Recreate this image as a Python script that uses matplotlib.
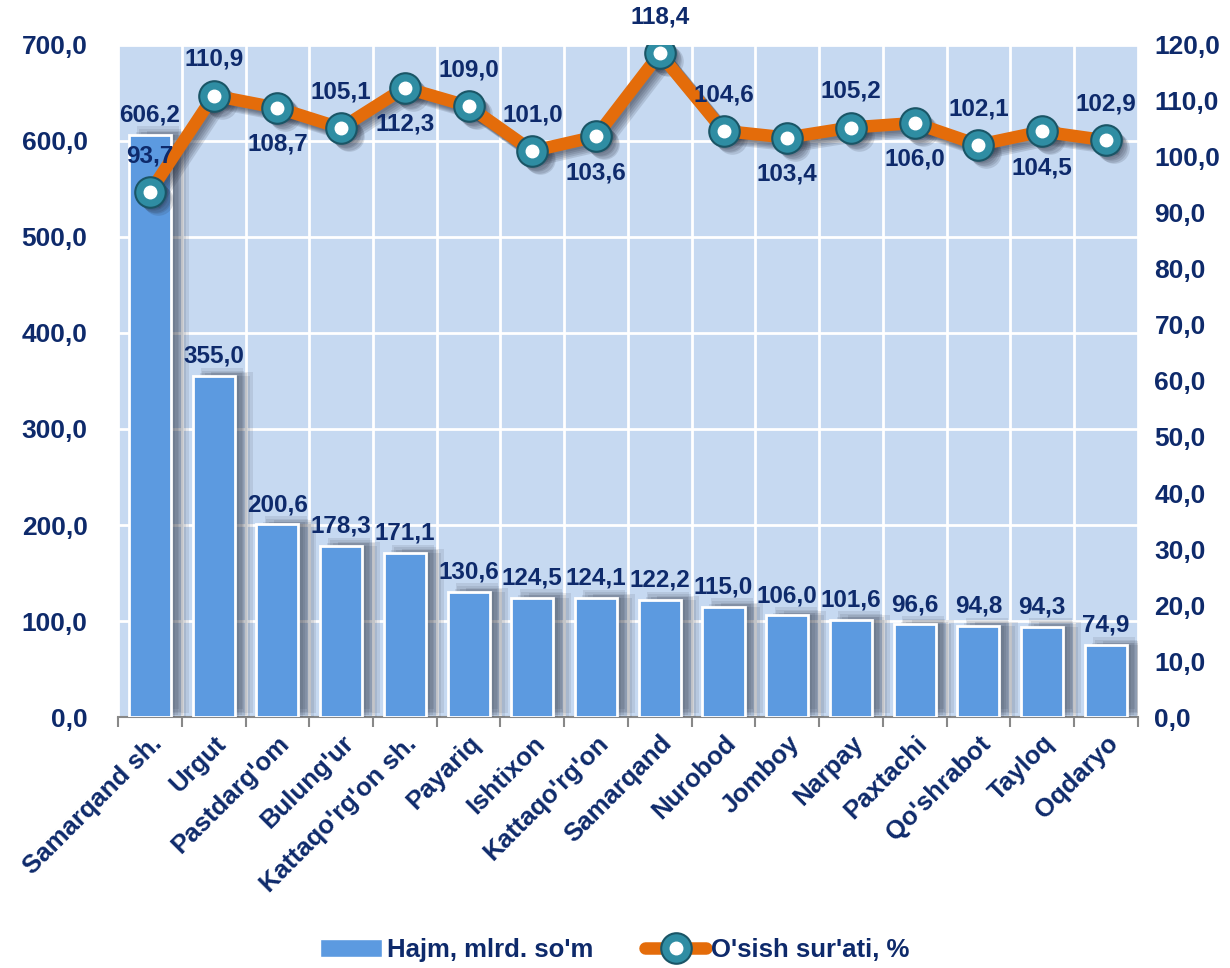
import matplotlib
matplotlib.use('Agg')
import matplotlib.pyplot as plt
import matplotlib.patheffects as pe
import matplotlib.transforms as mtrans
from matplotlib.legend_handler import HandlerTuple
from matplotlib.patches import Patch
import numpy as np

plt.rcParams['font.family'] = ['Liberation Sans', 'DejaVu Sans']
plt.rcParams['font.weight'] = 'bold'

districts = ["Samarqand sh.", "Urgut", "Pastdarg'om", "Bulung'ur", "Kattaqo'rg'on sh.",
             "Payariq", "Ishtixon", "Kattaqo'rg'on", "Samarqand", "Nurobod", "Jomboy",
             "Narpay", "Paxtachi", "Qo'shrabot", "Tayloq", "Oqdaryo"]
volume = [606.2, 355.0, 200.6, 178.3, 171.1, 130.6, 124.5, 124.1, 122.2, 115.0,
          106.0, 101.6, 96.6, 94.8, 94.3, 74.9]
growth = [93.7, 110.9, 108.7, 105.1, 112.3, 109.0, 101.0, 103.6, 118.4, 104.6,
          103.4, 105.2, 106.0, 102.1, 104.5, 102.9]
# +1 label above the point, -1 below
growth_pos = [1, 1, -1, 1, -1, 1, 1, -1, 1, 1, -1, 1, -1, 1, -1, 1]

navy = '#0E2A6B'
bar_col = '#5C9AE0'
line_col = '#E46C0A'
fs = 17.5

fig = plt.figure(figsize=(12.3, 9.68), dpi=100)
ax = fig.add_axes([0.096, 0.259, 0.829, 0.695])
ax.set_facecolor('#C6D9F1')
x = np.arange(len(districts))

# soft shadow: several offset layers with low alpha
bar_shadow = [pe.SimplePatchShadow(offset=(dx, dy), shadow_rgbFace='#2A3040', alpha=0.1)
              for dx, dy in ((3, 0), (5, 2), (7, 4), (9, 2), (11, 0), (13, 3), (6, 6))]
bars = ax.bar(x, volume, 0.66, color=bar_col, edgecolor='white', linewidth=2, zorder=3)
for b in bars:
    b.set_path_effects(bar_shadow + [pe.Normal()])

for b, v in zip(bars, volume):
    ax.annotate(('%.1f' % v).replace('.', ','), (b.get_x() + b.get_width() / 2, v),
                xytext=(0, 6), textcoords='offset points', ha='center', va='bottom',
                fontsize=fs, fontweight='bold', color=navy, zorder=5)

ax.set_xlim(-0.5, len(districts) - 0.5)
ax.set_ylim(0, 700)
ax.set_yticks(np.arange(0, 701, 100))
ax.set_yticklabels([('%.1f' % t).replace('.', ',') for t in np.arange(0, 701, 100)])
ax.set_xticks(x)
ax.set_xticklabels(districts, rotation=45, ha='right', rotation_mode='anchor')
ax.set_xticks(np.arange(-0.5, len(districts), 1), minor=True)
ax.tick_params(axis='x', which='major', length=0, pad=10, labelsize=18.5, labelcolor=navy)
ax.tick_params(axis='x', which='minor', length=7, width=1.5, color='#888888')
ax.tick_params(axis='y', length=0, labelsize=19, labelcolor=navy, pad=22)
ax.grid(True, which='major', axis='y', color='white', linewidth=2)
ax.grid(True, which='minor', axis='x', color='white', linewidth=2)
ax.set_axisbelow(True)
for s in ['left', 'right', 'top']:
    ax.spines[s].set_visible(False)
ax.spines['bottom'].set_color('#888888')
ax.spines['bottom'].set_linewidth(1.5)

ax2 = ax.twinx()
ax2.set_ylim(0, 120)
ax2.set_yticks(np.arange(0, 121, 10))
ax2.set_yticklabels([('%.1f' % t).replace('.', ',') for t in np.arange(0, 121, 10)])
ax2.tick_params(axis='y', length=0, labelsize=19, labelcolor=navy, pad=12)
for s in ax2.spines.values():
    s.set_visible(False)

# blurred shadow under the line
for d in (2, 3.5, 5, 6.5, 8):
    off = mtrans.ScaledTranslation(d / 100, -d / 100, fig.dpi_scale_trans)
    ax2.plot(x, growth, color='#2A3040', alpha=0.15, linewidth=9, marker='o', markersize=22,
             markeredgewidth=0, solid_joinstyle='round', zorder=3.5,
             transform=ax2.transData + off)

ln, = ax2.plot(x, growth, color=line_col, linewidth=9, solid_capstyle='round',
               solid_joinstyle='round', marker='o', markersize=22, markerfacecolor='#2F8DA3',
               markeredgecolor='#1A5566', markeredgewidth=1.5, zorder=4)
dots, = ax2.plot(x, growth, linestyle='none', marker='o', markersize=9,
                 markerfacecolor='white', markeredgecolor='white', zorder=5)
for xi, g, p in zip(x, growth, growth_pos):
    ax2.annotate(('%.1f' % g).replace('.', ','), (xi, g), xytext=(0, 26 * p),
                 textcoords='offset points', ha='center', va='center',
                 fontsize=fs, fontweight='bold', color=navy, zorder=6)

handles = [Patch(facecolor=bar_col, edgecolor='white'), (ln, dots)]
fig.legend(handles, ["Hajm, mlrd. so'm", "O'sish sur'ati, %"],
           handler_map={tuple: HandlerTuple(ndivide=1)},
           loc='lower center', bbox_to_anchor=(0.5, -0.018), ncol=2, frameon=False,
           fontsize=18.5, labelcolor=navy, handlelength=2.4, handletextpad=0.2,
           columnspacing=2.0)

fig.savefig('out.png', dpi=100)
